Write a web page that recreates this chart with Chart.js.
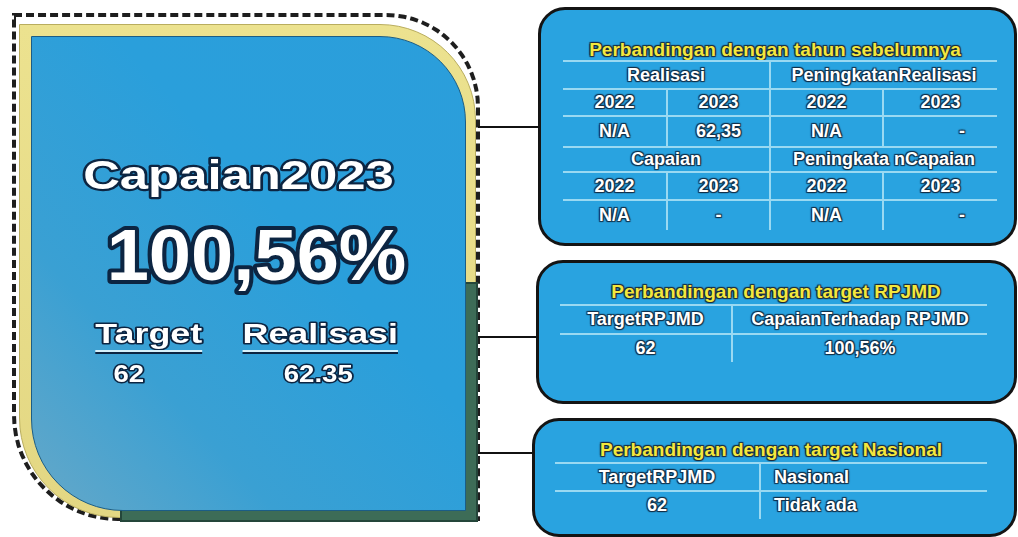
<!DOCTYPE html>
<html>
<head>
<meta charset="utf-8">
<script src="https://cdn.jsdelivr.net/npm/chart.js@4.4.1/dist/chart.umd.min.js"></script>
<style>
  html, body { margin: 0; padding: 0; background: #fff; width: 1018px; height: 537px; overflow: hidden; }
  .abs { position: absolute; box-sizing: border-box; }
  #dash { left: 12px; top: 13px; width: 468px; height: 508px; border: 4px dashed #1e1e1e;
          border-radius: 0 94px 0 106px; z-index: 1; }
  #yellow { left: 19px; top: 24px; width: 457px; height: 494px; background: linear-gradient(to bottom, #ece28f, #e3d783);
            border-radius: 0 96px 0 100px; z-index: 2; border: 1px solid #b9ad5e; }
  #green { left: 120px; top: 282px; width: 358px; height: 240px; background: #3d6c57; border: 2px solid #24463a; z-index: 3; }
  #blue { left: 31px; top: 36px; width: 435px; height: 475px; border: 1px solid #1b5d86;
          background: linear-gradient(to top right, #66a8c8 0%, #3aa0d3 28%, #2a9fdb 60%, #2b9edb 100%);
          border-radius: 0 86px 0 92px; z-index: 4; }
  #panel { left: 31px; top: 36px; width: 435px; height: 475px; z-index: 5; }
  .conn { height: 2px; background: #111; z-index: 1; }
  .box { background: #29a3e0; border: 3px solid #141414; border-radius: 27px; }
  .title { color: #f3e73d; font: bold 19px "Liberation Sans", Arial, sans-serif; text-align: center; white-space: nowrap;
           text-shadow: 0 0 1px #1d2a3a, 1px 1px 1px #1d2a3a, -1px -1px 1px #1d2a3a, 1px -1px 1px #1d2a3a, -1px 1px 1px #1d2a3a; }
  table { position: absolute; border-collapse: collapse; table-layout: fixed; }
  td { padding: 0; text-align: center; vertical-align: middle; white-space: nowrap; color: #fff;
       font: bold 18px "Liberation Sans", Arial, sans-serif;
       text-shadow: 0 0 1px #123049, 1px 1px 1px #123049, -1px -1px 1px #123049, 1px -1px 1px #123049, -1px 1px 1px #123049;
       border-top: 2px solid #9ad9f2; }
  td.vl { border-left: 2px solid #9ad9f2; }
  td.dr { text-align: right; padding-right: 32px; }
  td.lf { text-align: left; padding-left: 13px; }
</style>
</head>
<body>
<div id="dash" class="abs"></div>
<div id="yellow" class="abs"></div>
<div id="green" class="abs"></div>
<div id="blue" class="abs"></div>
<div id="panel" class="abs"><canvas id="capaianChart"></canvas></div>

<div class="abs conn" style="left:478px; top:126px; width:62px;"></div>
<div class="abs conn" style="left:478px; top:336px; width:60px;"></div>
<div class="abs conn" style="left:478px; top:452px; width:56px;"></div>

<div class="abs box" style="left:538px; top:7px; width:479px; height:239px;"></div>
<div class="abs box" style="left:536px; top:260px; width:481px; height:144px;"></div>
<div class="abs box" style="left:532px; top:418px; width:485px; height:119px;"></div>

<div class="abs title" id="t1" style="left:538px; top:39px; width:474px;"></div>
<table id="tab1" style="left:563px; top:60px; width:434px;"></table>

<div class="abs title" id="t2" style="left:560px; top:281px; width:432px;"></div>
<table id="tab2" style="left:560px; top:304px; width:427px;"></table>

<div class="abs title" id="t3" style="left:555px; top:439px; width:432px;"></div>
<table id="tab3" style="left:555px; top:462px; width:432px;"></table>

<script>
// panel kiri
const judulCapaian = 'Capaian2023';
const persenCapaian = '100,56%';
const kategori = ['Target', 'Realisasi'];
const nilai = [62, 62.35];
const nilaiTeks = ['62', '62.35'];

// tabel perbandingan
const judulTabel = ['Perbandingan dengan tahun sebelumnya', 'Perbandingan dengan target RPJMD', 'Perbandingan dengan target Nasional'];
const tahun = ['2022', '2023'];
const realisasi = ['N/A', '62,35'];
const peningkatanRealisasi = ['N/A', '-'];
const capaian = ['N/A', '-'];
const peningkatanCapaian = ['N/A', '-'];
const kolomRPJMD = ['TargetRPJMD', 'CapaianTerhadap RPJMD'];
const nilaiRPJMD = ['62', '100,56%'];
const kolomNasional = ['TargetRPJMD', 'Nasional'];
const nilaiNasional = ['62', 'Tidak ada'];

document.getElementById('t1').textContent = judulTabel[0];
document.getElementById('t2').textContent = judulTabel[1];
document.getElementById('t3').textContent = judulTabel[2];

function td(text, cls, span) {
  return '<td' + (cls ? ' class="' + cls + '"' : '') + (span ? ' colspan="' + span + '"' : '') + '>' + text + '</td>';
}
const col1 = '<colgroup><col style="width:104px"><col style="width:103px"><col style="width:113px"><col style="width:114px"></colgroup>';
document.getElementById('tab1').innerHTML = col1 +
  '<tr style="height:28px">' + td('Realisasi', '', 2) + td('PeningkatanRealisasi', 'vl', 2) + '</tr>' +
  '<tr style="height:27px">' + td(tahun[0]) + td(tahun[1], 'vl') + td(tahun[0], 'vl') + td(tahun[1], 'vl') + '</tr>' +
  '<tr style="height:31px">' + td(realisasi[0]) + td(realisasi[1], 'vl') + td(peningkatanRealisasi[0], 'vl') + td(peningkatanRealisasi[1], 'vl dr') + '</tr>' +
  '<tr style="height:25px">' + td('Capaian', '', 2) + td('Peningkata nCapaian', 'vl', 2) + '</tr>' +
  '<tr style="height:28px">' + td(tahun[0]) + td(tahun[1], 'vl') + td(tahun[0], 'vl') + td(tahun[1], 'vl') + '</tr>' +
  '<tr style="height:30px">' + td(capaian[0]) + td(capaian[1], 'vl') + td(peningkatanCapaian[0], 'vl') + td(peningkatanCapaian[1], 'vl dr') + '</tr>';

document.getElementById('tab2').innerHTML = '<colgroup><col style="width:172px"><col style="width:255px"></colgroup>' +
  '<tr style="height:29px">' + td(kolomRPJMD[0]) + td(kolomRPJMD[1], 'vl') + '</tr>' +
  '<tr style="height:28px">' + td(nilaiRPJMD[0]) + td(nilaiRPJMD[1], 'vl') + '</tr>';

document.getElementById('tab3').innerHTML = '<colgroup><col style="width:205px"><col style="width:227px"></colgroup>' +
  '<tr style="height:28px">' + td(kolomNasional[0]) + td(kolomNasional[1], 'vl lf') + '</tr>' +
  '<tr style="height:28px">' + td(nilaiNasional[0]) + td(nilaiNasional[1], 'vl lf') + '</tr>';

// teks putih bergaris tepi gelap, direntang horizontal
function teksTebal(ctx, text, x, y, size, sx) {
  ctx.save();
  ctx.translate(x, y);
  ctx.scale(sx, 1);
  ctx.font = 'bold ' + size + 'px "Liberation Sans", Arial, sans-serif';
  ctx.textAlign = 'center';
  ctx.textBaseline = 'alphabetic';
  ctx.lineJoin = 'round';
  ctx.lineWidth = Math.max(3, size * 0.11);
  ctx.strokeStyle = '#0c2542';
  ctx.strokeText(text, 0, 0);
  ctx.fillStyle = '#ffffff';
  ctx.fillText(text, 0, 0);
  const w = ctx.measureText(text).width * sx;
  ctx.restore();
  return w;
}

const panelPlugin = {
  id: 'panelText',
  afterDraw(chart) {
    const ctx = chart.ctx;
    const xs = chart.scales.x;
    const area = chart.chartArea;
    const mid = (area.left + area.right) / 2;
    teksTebal(ctx, judulCapaian, mid + 4, 153, 40, 1.27);
    teksTebal(ctx, persenCapaian, mid + 22, 244, 73, 1.04);
    kategori.forEach(function (k, i) {
      const x = xs.getPixelForValue(i);
      const w = teksTebal(ctx, k, x, 307, 28, 1.28);
      ctx.save();
      ctx.fillStyle = '#0c2542';
      ctx.fillRect(x - w / 2, 316, w, 2);
      ctx.fillStyle = '#d6f1fb';
      ctx.fillRect(x - w / 2, 314, w, 2);
      ctx.restore();
      teksTebal(ctx, nilaiTeks[i], x + (i === 0 ? -20 : -2), 346, 23, 1.2);
    });
  }
};

new Chart(document.getElementById('capaianChart'), {
  type: 'bar',
  data: {
    labels: kategori,
    datasets: [{
      data: nilai,
      backgroundColor: 'rgba(0,0,0,0)',
      borderWidth: 0
    }]
  },
  options: {
    responsive: true,
    maintainAspectRatio: false,
    animation: false,
    events: [],
    layout: { padding: { left: 32, right: 60, top: 0, bottom: 0 } },
    plugins: { legend: { display: false }, tooltip: { enabled: false } },
    scales: {
      x: { display: false },
      y: { display: false, min: 0, max: 100 }
    }
  },
  plugins: [panelPlugin]
});
</script>
</body>
</html>
